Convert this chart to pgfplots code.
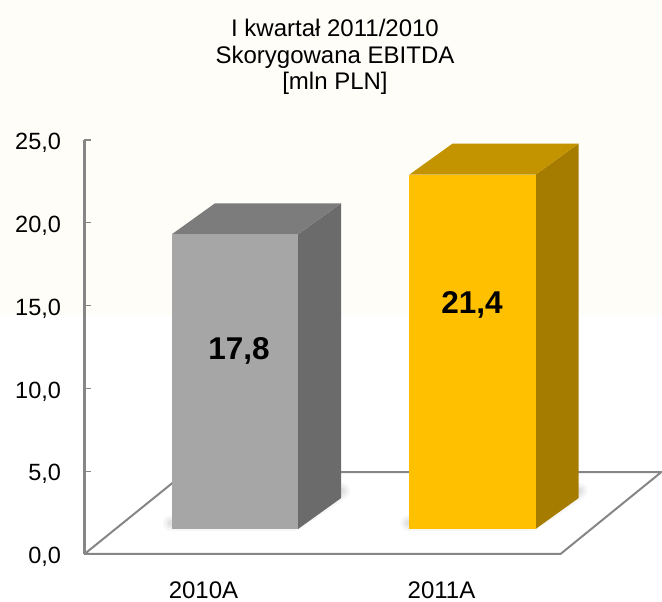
\documentclass[border=0pt]{standalone}
\usepackage{fontspec}
\setmainfont{Liberation Sans}
\usepackage{pgfplots}
\pgfplotsset{compat=1.18}
\definecolor{bgtop}{HTML}{FFFDF8}
\definecolor{axgray}{HTML}{868686}
\definecolor{grayfront}{HTML}{A6A6A6}
\definecolor{graytop}{HTML}{7C7C7C}
\definecolor{grayside}{HTML}{6B6B6B}
\definecolor{goldfront}{HTML}{FFC000}
\definecolor{goldtop}{HTML}{C49300}
\definecolor{goldside}{HTML}{A67C00}
\pgfplotsset{
  shadow a/.style={black,opacity=0.03,line width=16pt,line cap=round,line join=round},
  shadow b/.style={black,opacity=0.04,line width=11pt,line cap=round,line join=round},
  shadow c/.style={black,opacity=0.05,line width=6pt,line cap=round,line join=round},
}
\begin{document}
\begin{tikzpicture}[x=1pt,y=1pt]
\path[use as bounding box] (0,0) rectangle (662,602);
\fill[bgtop] (0,287) rectangle (662,602);
\node[align=center,font=\fontsize{24}{26.5}\selectfont] at (335,545) {I kwartał 2011/2010\\Skorygowana EBITDA\\{[mln PLN]}};
\begin{axis}[
    at={(84.5pt,48pt)}, anchor=south west,
    scale only axis,
    width=577.5pt, height=414pt,
    xmin=-0.5, xmax=1.9265, ymin=0, ymax=25,
    clip=false,
    axis y line=left, axis x line=bottom,
    axis line style={-},
    y axis line style={axgray,line width=2.2pt},
    x axis line style={draw=none},
    xtick={0,1}, xticklabels={2010A,2011A},
    ytick={0,5,10,15,20,25},
    x tick style={draw=none},
    y tick style={axgray,line width=1.3pt},
    tick align=inside,
    major tick length=7pt,
    yticklabel style={font=\fontsize{23.5}{26}\selectfont,xshift=-20pt,yshift=-3pt},
    xticklabel style={font=\fontsize{24}{26}\selectfont,yshift=-24pt},
    /pgf/number format/.cd, fixed, fixed zerofill, precision=1, use comma, assume math mode=true,
]
% floor
\addplot[axgray,line width=2pt] coordinates {(-0.5,0) (1.5,0) (1.924,4.95) (-0.0735,4.95) (-0.5,0)};

% 2010A: soft shadow, then side, top and front
\addplot[shadow a,xshift=31.5pt,yshift=25pt] coordinates {(-0.27,0.35) (0.25,0.35) (0.45,2.3)};
\addplot[shadow b,xshift=31.5pt,yshift=25pt] coordinates {(-0.27,0.35) (0.25,0.35) (0.45,2.3)};
\addplot[shadow c,xshift=31.5pt,yshift=25pt] coordinates {(-0.27,0.35) (0.25,0.35) (0.45,2.3)};
\addplot[fill=grayside,draw=none,xshift=31.5pt,yshift=25pt] coordinates {(0.265,0) (0.265,17.8) (0.446,19.67) (0.446,1.87)};
\addplot[fill=graytop,draw=none,xshift=31.5pt,yshift=25pt] coordinates {(-0.265,17.8) (0.265,17.8) (0.446,19.67) (-0.084,19.67)};
\addplot[ybar,bar width=126.5pt,bar shift=0pt,fill=grayfront,draw=none,xshift=31.5pt,yshift=25pt] coordinates {(0,17.8)};

% 2011A
\addplot[shadow a,xshift=31pt,yshift=25pt] coordinates {(0.73,0.35) (1.25,0.35) (1.45,2.3)};
\addplot[shadow b,xshift=31pt,yshift=25pt] coordinates {(0.73,0.35) (1.25,0.35) (1.45,2.3)};
\addplot[shadow c,xshift=31pt,yshift=25pt] coordinates {(0.73,0.35) (1.25,0.35) (1.45,2.3)};
\addplot[fill=goldside,draw=none,xshift=31pt,yshift=25pt] coordinates {(1.265,0) (1.265,21.4) (1.446,23.27) (1.446,1.87)};
\addplot[fill=goldtop,draw=none,xshift=31pt,yshift=25pt] coordinates {(0.735,21.4) (1.265,21.4) (1.446,23.27) (0.916,23.27)};
\addplot[ybar,bar width=126.5pt,bar shift=0pt,fill=goldfront,draw=none,xshift=31pt,yshift=25pt] coordinates {(1,21.4)};

\node[font=\fontsize{31.5}{36}\selectfont\bfseries] at (axis cs:0.149,12.25) {17,8};
\node[font=\fontsize{31.5}{36}\selectfont\bfseries] at (axis cs:1.128,15.05) {21,4};
\end{axis}
\end{tikzpicture}
\end{document}
